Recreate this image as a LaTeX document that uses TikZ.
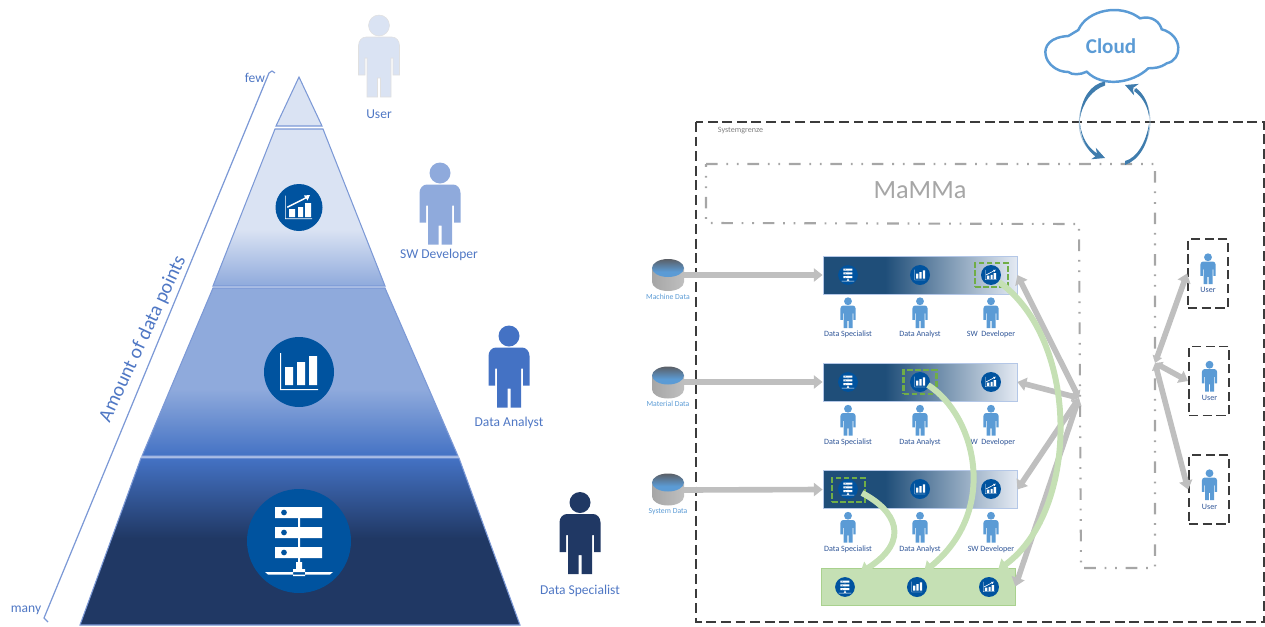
\documentclass[tikz,border=0pt]{standalone}
\usepackage{fontspec}
\setmainfont{Carlito}
\usetikzlibrary{arrows.meta}

\definecolor{tierlight}{HTML}{DAE3F3}
\definecolor{tiermid}{HTML}{8FAADC}
\definecolor{tierstrong}{HTML}{4472C4}
\definecolor{tierdark}{HTML}{203864}
\definecolor{tieredge}{HTML}{7C99D6}
\definecolor{iconblue}{HTML}{00539F}
\definecolor{smallperson}{HTML}{5B9BD5}
\definecolor{labeldark}{HTML}{2F5597}
\definecolor{labelblue}{HTML}{4F77C4}
\definecolor{banddark}{HTML}{1F4E79}
\definecolor{bandlight}{HTML}{E4EAF3}
\definecolor{bandedge}{HTML}{B4C7E7}
\definecolor{greenfill}{HTML}{C5E0B4}
\definecolor{greenedge}{HTML}{A9D18E}
\definecolor{greendash}{HTML}{70AD47}
\definecolor{arrowgray}{HTML}{BFBFBF}
\definecolor{linegray}{HTML}{A6A6A6}
\definecolor{lineblack}{HTML}{3B3B3B}
\definecolor{cyclecol}{HTML}{3F7CAD}
\definecolor{dbtop}{HTML}{5B5F66}

\pgfdeclareverticalshading{tiertwo}{100bp}{color(0bp)=(tiermid);color(25bp)=(tiermid);color(43bp)=(tierlight);color(100bp)=(tierlight)}
\pgfdeclareverticalshading{tierthree}{100bp}{color(0bp)=(tierstrong);color(25bp)=(tierstrong);color(45bp)=(tiermid);color(100bp)=(tiermid)}
\pgfdeclareverticalshading{tierfour}{100bp}{color(0bp)=(tierdark);color(51bp)=(tierdark);color(75bp)=(tierstrong);color(100bp)=(tierstrong)}
\pgfdeclarehorizontalshading{bandshade}{100bp}{color(0bp)=(banddark);color(41bp)=(banddark);color(75bp)=(bandlight);color(100bp)=(bandlight)}
\pgfdeclareverticalshading{dbshade}{100bp}{color(0bp)=(smallperson);color(40bp)=(smallperson);color(75bp)=(dbtop);color(100bp)=(dbtop)}

\tikzset{
  tierline/.style={draw=tieredge,line width=.6pt},
  bigname/.style={font=\fontsize{7.7}{9}\selectfont,text=labelblue,inner sep=0pt},
  smallname/.style={font=\fontsize{4.6}{6}\selectfont,text=labeldark,inner sep=0pt},
  dbname/.style={font=\fontsize{4.4}{6}\selectfont,text=smallperson,inner sep=0pt},
  bandbox/.style={draw=bandedge,line width=.5pt,shading=bandshade,minimum width=3.88cm,minimum height=.76cm,inner sep=0pt},
  greenbox/.style={draw=greenedge,line width=.4pt,fill=greenfill,minimum width=3.88cm,minimum height=.74cm,inner sep=0pt},
  pickbox/.style={draw=greendash,line width=1.5pt,dash pattern=on 3.2pt off 1.4pt,minimum width=.66cm,minimum height=.48cm,inner sep=0pt},
  userbox/.style={draw=lineblack,line width=1.1pt,dash pattern=on 5.2pt off 2.6pt,minimum width=.8cm,minimum height=1.38cm,inner sep=0pt},
  grayarrow/.style={draw=arrowgray,line width=3.2pt,-{Triangle[width=7.5pt,length=5pt]}},
  grayboth/.style={draw=arrowgray,line width=3.2pt,{Triangle[width=5.5pt,length=4pt]}-{Triangle[width=7.5pt,length=5pt]}},
  greenarrow/.style={draw=greenfill,line width=3.4pt,-{Triangle[width=8pt,length=5.5pt]}},
  cyclearrow/.style={draw=cyclecol!45,line width=.5pt,-{Stealth[width=7pt,length=7pt,cyclecol]}},
  crescent/.style={fill=cyclecol},
  systemline/.style={draw=lineblack,line width=1.1pt,dash pattern=on 5.6pt off 2.7pt},
  mammaline/.style={draw=linegray,line width=1.2pt,dash pattern=on 6.6pt off 5pt on 1pt off 5pt on 1pt off 5pt},
  pics/person/.style={code={
    \path[pic actions] (0,-30) circle [radius=10.5];
    \path[pic actions] (-12,41.5) -- (-12,2.5) -- (-14,2.5) -- (-14,19.5) -- (-20.5,19.5) -- (-20.5,-10)
      .. controls (-20.5,-15) and (-17,-18.5) .. (-13,-18.5) -- (13,-18.5)
      .. controls (17,-18.5) and (20.5,-15) .. (20.5,-10) -- (20.5,19.5) -- (14,19.5) -- (14,2.5) -- (12,2.5)
      -- (12,41.5) -- (1.5,41.5) -- (1.5,22.5) -- (-1.5,22.5) -- (-1.5,41.5) -- cycle;
  }},
  pics/servericon/.style={code={
    \fill[iconblue] (0,0) circle [radius=52];
    \fill[white,even odd rule] (-24,-34) rectangle (23,-23) (-15,-28.5) circle [radius=3];
    \fill[white,even odd rule] (-24,-14) rectangle (23,-3) (-15,-8.5) circle [radius=3];
    \fill[white,even odd rule] (-24,6) rectangle (23,17) (-15,11.5) circle [radius=3];
    \fill[white] (-1,-23) rectangle (1,-14) (-1,-3) rectangle (1,6) (-1,17) rectangle (1,24);
    \fill[white] (-3,21) rectangle (3,28) (-6,28) rectangle (6,35) (-34,31) -- (34,31) -- (31,33.5) -- (-31,33.5) -- cycle;
  }},
  pics/barsicon/.style={code={
    \fill[iconblue] (0,0) circle [radius=35];
    \fill[white] (-19,-19) rectangle (-18,18) (-19,17) rectangle (19,18);
    \fill[white] (-14,-5) rectangle (-6,13) (-2,-10) rectangle (6,13) (10,-16) rectangle (18,13);
  }},
  pics/trendicon/.style={code={
    \fill[iconblue] (0,0) circle [radius=23.5];
    \fill[white] (-14,-12) rectangle (-13.3,11.5) (-14,10.8) rectangle (13,11.5);
    \fill[white] (-10,1.5) rectangle (-4,9.5) (-1,-.5) rectangle (4,9.5) (6,-4.5) rectangle (12,9.5);
    \fill[white] (-12,-1) -- (6,-10) -- (5,-12) -- (11,-12.5) -- (8.5,-7) -- (7.2,-9) -- (-11.5,.5) -- cycle;
  }},
  pics/dbicon/.style={code={
    \path[left color=black!35,middle color=black!4,right color=black!25] (-16,-7) -- (-16,7) arc [start angle=180,end angle=0,x radius=16,y radius=9] -- (16,-7) -- cycle;
    \path[shading=dbshade] (0,-7) ellipse [x radius=16,y radius=9];
  }}
}

\begin{document}
\begin{tikzpicture}[x=.02cm,y=-.02cm]
\useasboundingbox (0,0) rectangle (1265,626);

\path[fill=tierlight,tierline] (299,77) -- (322,126) -- (276,126) -- cycle;
\path[shading=tiertwo,tierline] (275,129) -- (323,129) -- (385,286) -- (213,286) -- cycle;
\path[shading=tierthree,tierline] (213,288) -- (385,288) -- (458,456) -- (142,456) -- cycle;
\path[shading=tierfour,tierline] (141,458) -- (459,458) -- (520,625) -- (80,625) -- cycle;
\pic at (299,207.5) {trendicon};
\pic at (299,372) {barsicon};
\pic at (299,541) {servericon};

\coordinate (axisa) at (275,73);
\coordinate (axisb) at (272,71);
\coordinate (axisc) at (269,73);
\coordinate (axisd) at (44,618);
\coordinate (axise) at (48,622);
\draw[tieredge,line width=.7pt] (axisa) -- (axisb) -- (axisc) -- (axisd) -- (axise);
\node[bigname] (few) at (255,78) {few};
\node[bigname] (many) at (26,610) {many};
\node[text=labelblue,inner sep=0pt,rotate=65,font=\fontsize{11.3}{14}\selectfont] (amount) at (143,339) {Amount of data points};

\pic[fill=tierlight,draw=black!12,line width=.3pt] at (379,55.5) {person};
\pic[fill=tiermid] at (440,203) {person};
\pic[fill=tierstrong] at (509,366) {person};
\pic[fill=tierdark] at (580,532.5) {person};
\node[bigname] (nameuser) at (379,114) {User};
\node[bigname] (namesw) at (439,255) {SW Developer};
\node[bigname] (nameanalyst) at (509,423) {Data Analyst};
\node[bigname] (namespec) at (580,591) {Data Specialist};

\draw[systemline] (696,122) rectangle (1264,622);
\node[font=\fontsize{4.6}{5}\selectfont,text=black!50,inner sep=0pt] (system) at (740.5,131) {Systemgrenze};
\draw[mammaline] (706,164) -- (1155,164) -- (1155,568) -- (1081,568) -- (1079,224) -- (706,223) -- cycle;
\node[font=\fontsize{15}{17}\selectfont,text=linegray,inner sep=0pt] (mamma) at (920,190) {MaMMa};

\draw[smallperson,line width=1.4pt] (1068.3,72)
  .. controls (1044,72) and (1032,38) .. (1068.3,36) -- (1078.3,30)
  .. controls (1087,10) and (1120,3) .. (1140,18.3)
  .. controls (1153,15) and (1160,23) .. (1161.7,29.3)
  .. controls (1183,35) and (1183,60) .. (1166.7,63.3)
  .. controls (1160,68) and (1155,68) .. (1148.3,68.3)
  .. controls (1133,83) and (1103,88) .. (1086.7,71.7)
  .. controls (1080,75) and (1072,75) .. (1068.3,72) -- cycle;
\node[font=\bfseries\fontsize{12}{14}\selectfont,text=smallperson,inner sep=0pt] (cloud) at (1111,46) {Cloud};
\coordinate (cloudl) at (1105,83);
\coordinate (cloudr) at (1125,85);
\coordinate (mammal) at (1105,158);
\coordinate (mammar) at (1125,163);
\draw[cyclearrow] (cloudl) .. controls (1072,95) and (1072,145) .. (mammal);
\draw[cyclearrow] (mammar) .. controls (1157,150) and (1157,98) .. (cloudr);
\fill[crescent] (1105,81.5) .. controls (1091,84) and (1081,98) .. (1080,118) .. controls (1083,102) and (1092,90) .. (1105,85.5) -- cycle;
\fill[crescent] (1080,124) .. controls (1082,138) and (1088,148) .. (1098,154) -- (1096,157) .. controls (1087,150) and (1081,140) .. (1080,124) -- cycle;
\fill[crescent] (1125,161) .. controls (1137,158) and (1146,142) .. (1149,124) .. controls (1149,144) and (1139,160) .. (1125,165) -- cycle;
\fill[crescent] (1149,116) .. controls (1147,104) and (1141,96) .. (1134,91) -- (1136,88) .. controls (1144,94) and (1149,104) .. (1149,116) -- cycle;

\node[bandbox] (bandone) at (920,275) {};
\node[bandbox] (bandtwo) at (920,382) {};
\node[bandbox] (bandthree) at (920,489.5) {};
\node[greenbox] (bandgreen) at (918,586.5) {};

\pic at (668,275) {dbicon};
\pic at (668,382.5) {dbicon};
\pic at (668,489.5) {dbicon};
\coordinate (dbone) at (684,275);
\coordinate (dbtwo) at (684,382);
\coordinate (dbthree) at (684,490);
\node[dbname] (nameone) at (668,297) {Machine Data};
\node[dbname] (nametwo) at (668,404) {Material Data};
\node[dbname] (namethree) at (668,512) {System Data};
\draw[grayarrow] (dbone) -- (bandone.west);
\draw[grayarrow] (dbtwo) -- (bandtwo.west);
\draw[grayarrow] (dbthree) -- (bandthree.west);

\pic[scale=.19] at (848,275) {servericon};
\pic[scale=.286] at (920,275) {barsicon};
\pic[scale=.425] at (991,275) {trendicon};
\pic[scale=.19] at (848,382) {servericon};
\pic[scale=.286] at (920,382) {barsicon};
\pic[scale=.425] at (991,382) {trendicon};
\pic[scale=.19] at (848,489) {servericon};
\pic[scale=.286] at (920,489) {barsicon};
\pic[scale=.425] at (991,489) {trendicon};
\pic[scale=.19] at (845,587) {servericon};
\pic[scale=.286] at (917,587) {barsicon};
\pic[scale=.425] at (989,587) {trendicon};

\pic[fill=smallperson,scale=.375] at (848,312.5) {person};
\pic[fill=smallperson,scale=.375] at (920,312.5) {person};
\pic[fill=smallperson,scale=.375] at (991,312.5) {person};
\pic[fill=smallperson,scale=.375] at (848,420) {person};
\pic[fill=smallperson,scale=.375] at (920,420) {person};
\pic[fill=smallperson,scale=.375] at (991,420) {person};
\pic[fill=smallperson,scale=.375] at (848,527) {person};
\pic[fill=smallperson,scale=.375] at (920,527) {person};
\pic[fill=smallperson,scale=.375] at (991,527) {person};
\node[smallname] (specone) at (848,334) {Data Specialist};
\node[smallname] (analone) at (920,334) {Data Analyst};
\node[smallname] (devone) at (991,334) {SW~~Developer};
\node[smallname] (spectwo) at (848,442) {Data Specialist};
\node[smallname] (analtwo) at (920,442) {Data Analyst};
\node[smallname] (devtwo) at (991,442) {SW~~Developer};
\node[smallname] (specthree) at (848,549) {Data Specialist};
\node[smallname] (analthree) at (920,549) {Data Analyst};
\node[smallname] (devthree) at (991,549) {SW Developer};

\node[pickbox] (pickone) at (991.5,275) {};
\node[pickbox] (picktwo) at (920,382) {};
\node[pickbox] (pickthree) at (848.5,490) {};

\coordinate (hubleft) at (1079,398);
\coordinate (hubright) at (1155,363);
\draw[grayboth] (hubleft) -- (bandone.east);
\draw[grayboth] (hubleft) -- (bandtwo.east);
\draw[grayboth] (hubleft) -- (bandthree.east);
\draw[grayboth] (hubleft) -- (bandgreen.east);

\coordinate (startone) at (999,282);
\coordinate (starttwo) at (928,385);
\coordinate (startthree) at (862,493);
\coordinate (endone) at (998,570);
\coordinate (endtwo) at (924,572);
\coordinate (endthree) at (860,573);
\draw[greenarrow] (startone) .. controls (1080,340) and (1080,510) .. (endone);
\draw[greenarrow] (starttwo) .. controls (975,415) and (1000,510) .. (endtwo);
\draw[greenarrow] (startthree) .. controls (895,510) and (912,540) .. (endthree);

\node[userbox] (userone) at (1208,273.5) {};
\node[userbox] (usertwo) at (1209,381) {};
\node[userbox] (userthree) at (1209,489.5) {};
\pic[fill=smallperson,scale=.375] at (1208,268.5) {person};
\pic[fill=smallperson,scale=.375] at (1209.5,376) {person};
\pic[fill=smallperson,scale=.375] at (1209.5,484.5) {person};
\node[smallname] (useronename) at (1208,290) {User};
\node[smallname] (usertwoname) at (1209.5,398) {User};
\node[smallname] (userthreename) at (1209.5,507) {User};
\draw[grayboth] (hubright) -- (userone.west);
\draw[grayboth] (hubright) -- (usertwo.west);
\draw[grayboth] (hubright) -- (userthree.west);
\end{tikzpicture}
\end{document}
